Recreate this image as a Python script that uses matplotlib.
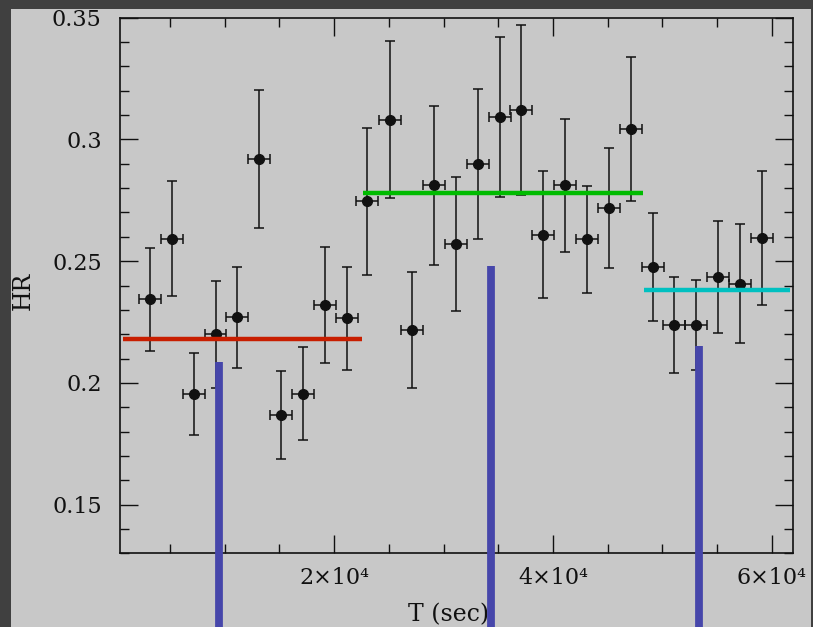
import matplotlib
matplotlib.use("Agg")
import matplotlib.pyplot as plt
from matplotlib.patches import Rectangle
from matplotlib.ticker import MultipleLocator, FixedLocator, FixedFormatter

# ---- data ----
t_sec = [3150, 5140, 7150, 9160, 11130, 13145, 15130, 17140, 19150, 21135,
         23020, 25120, 27130, 29110, 31100, 33140, 35120, 37100, 39110, 41090,
         43100, 45080, 47090, 49100, 51080, 53090, 55080, 57090, 59070]
hr = [0.2343, 0.2593, 0.1954, 0.2200, 0.2269, 0.2919, 0.1868, 0.1956, 0.2320, 0.2266,
      0.2746, 0.3081, 0.2217, 0.2812, 0.2571, 0.2900, 0.3092, 0.3121, 0.2609, 0.2811,
      0.2589, 0.2717, 0.3042, 0.2476, 0.2237, 0.2237, 0.2436, 0.2407, 0.2595]
hr_err = [0.0212, 0.0238, 0.0170, 0.0220, 0.0208, 0.0284, 0.0182, 0.0192, 0.0238, 0.0212,
          0.0302, 0.0322, 0.0237, 0.0326, 0.0276, 0.0308, 0.0327, 0.0349, 0.0260, 0.0272,
          0.0220, 0.0247, 0.0296, 0.0222, 0.0197, 0.0185, 0.0230, 0.0245, 0.0275]
t_halfbin = 1000

seg_level = [0.218, 0.278, 0.238]
seg_start = [700, 22600, 48300]
seg_end = [22560, 48250, 61700]
seg_color = ["#c81e00", "#00bb00", "#00c0c0"]

mark_t = [9440, 34340, 53340]
mark_top = [0.2086, 0.248, 0.2152]

yticks = [0.15, 0.2, 0.25, 0.3, 0.35]
ytick_labels = ["0.15", "0.2", "0.25", "0.3", "0.35"]
xticks = [20000, 40000, 60000]
xtick_labels = ["2×10⁴", "4×10⁴", "6×10⁴"]

# ---- figure ----
W, H = 813, 627
fig = plt.figure(figsize=(W / 100, H / 100), dpi=100, facecolor="#404040")
fig.patches.append(Rectangle((11 / W, 0), 800 / W, (H - 9) / H, transform=fig.transFigure,
                             facecolor="#c8c8c8", edgecolor="none", zorder=-10))

ax = fig.add_axes([119.7 / W, (H - 553.3) / H, (793.3 - 119.7) / W, (553.3 - 17.7) / H])
ax.set_zorder(1)
ax.set_facecolor("#c8c8c8")
ax.set_xlim(400, 61960)
ax.set_ylim(0.13, 0.35)

fam = ["DejaVu Serif"]

ax.errorbar(t_sec, hr, yerr=hr_err, xerr=t_halfbin, fmt="o", color="#111111",
            ms=7, elinewidth=1.1, capsize=3.3, capthick=1.1, zorder=3)

for lv, s, e, c in zip(seg_level, seg_start, seg_end, seg_color):
    ax.plot([s, e], [lv, lv], color=c, lw=3.2, solid_capstyle="butt", zorder=4)

for xm, top in zip(mark_t, mark_top):
    ax.plot([xm, xm], [0.09, top], color="#4646aa", lw=5.6, solid_capstyle="butt",
            clip_on=False, zorder=6)

ax.yaxis.set_major_locator(FixedLocator(yticks))
ax.yaxis.set_major_formatter(FixedFormatter(ytick_labels))
ax.yaxis.set_minor_locator(MultipleLocator(0.01))
ax.xaxis.set_major_locator(FixedLocator(xticks))
ax.xaxis.set_major_formatter(FixedFormatter(xtick_labels))
ax.xaxis.set_minor_locator(MultipleLocator(5000))

ax.tick_params(which="both", direction="in", top=True, right=True, color="#111111", width=1.0)
ax.tick_params(which="major", length=13)
ax.tick_params(which="minor", length=6.5)
ax.tick_params(axis="y", which="major", pad=13, labelsize=16)
ax.tick_params(axis="x", which="major", pad=10, labelsize=16)
for lab in ax.get_xticklabels() + ax.get_yticklabels():
    lab.set_family(fam)
    lab.set_color("#111111")

for sp in ax.spines.values():
    sp.set_linewidth(1.2)
    sp.set_color("#111111")

ax.set_xlabel("T (sec)", family=fam, fontsize=17, color="#111111")
ax.xaxis.set_label_coords((408 - 119.7) / 673.6, -0.093)
ax.xaxis.label.set_va("top")
ax.xaxis.label.set_ha("left")
ax.set_ylabel("HR", family=fam, fontsize=17, color="#111111")
ax.yaxis.set_label_coords(-0.143, 0.49)
ax.yaxis.label.set_va("center")

fig.savefig("out.png", dpi=100, facecolor=fig.get_facecolor())
